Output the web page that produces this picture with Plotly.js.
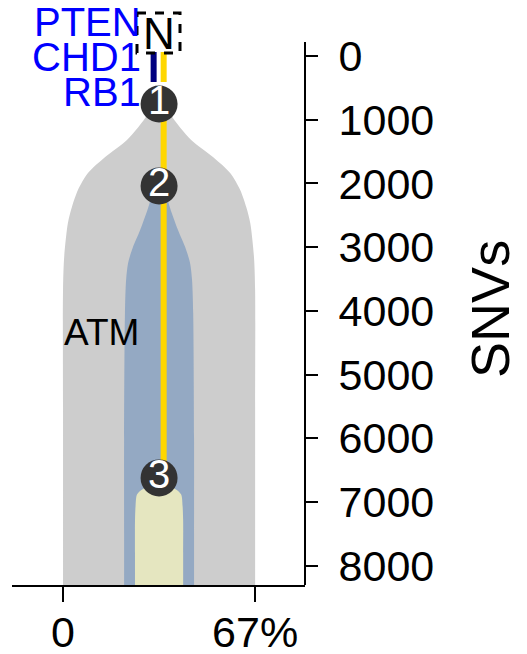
<!DOCTYPE html>
<html>
<head>
<meta charset="utf-8">
<script src="https://cdn.plot.ly/plotly-3.0.1.min.js"></script>
<style>html,body{margin:0;padding:0;background:#fff;}#chart{width:527px;height:654px;}</style>
</head>
<body>
<div id="chart"></div>
<script>
// ---- data ----
const maxCCF = 67;                 // % (right tick)
const cloneCenter = 33.5;          // centre of fish (% units)

// clone outlines: SNV depth vs half-width (%)
const greySNV  = [753, 925, 1318, 1584, 1835, 2102, 2369, 2620, 3153, 3670, 5500, 7500, 8300, 8700];
const greyHalf = [3, 4.2, 11.2, 18.8, 24.8, 28.3, 30.4, 31.8, 33.1, 33.5, 33.5, 33.5, 33.5, 33.5];
const blueSNV  = [2040, 2337, 2729, 2996, 3247, 3514, 4031, 6000, 7500, 8300, 8700];
const blueHalf = [2, 3.5, 6.6, 9.1, 10.8, 11.5, 11.9, 12.2, 12.2, 12.2, 12.2];
const khakiSNV  = [6680, 6800, 6880, 7060, 7300, 7800, 8300, 8700];
const khakiHalf = [0.5, 5.9, 7.7, 8.2, 8.4, 8.4, 8.4, 8.4];

// nodes
const nodeLabels = ['1', '2', '3'];
const nodeSNV = [753, 2040, 6620];

// truncal driver labels
const driverLabels = ['PTEN', 'CHD1', 'RB1'];
const driverSNV = [-533, 16, 565];
const truncStartSNV = -63, truncEndSNV = 408;

const subcloneLabel = 'ATM';
const subcloneLabelPos = [13.3, 4345];

const yTicks = [0, 1000, 2000, 3000, 4000, 5000, 6000, 7000, 8000];
const xTicks = [0, 67];
const xTickText = ['0', '67%'];

// ---- build ----
function outline(snv, half) {
  const xs = [], ys = [];
  for (let i = 0; i < snv.length; i++) { xs.push(cloneCenter - half[i]); ys.push(snv[i]); }
  for (let i = snv.length - 1; i >= 0; i--) { xs.push(cloneCenter + half[i]); ys.push(snv[i]); }
  return {x: xs, y: ys};
}
function fishTrace(o, color) {
  return {x: o.x, y: o.y, type: 'scatter', mode: 'lines', fill: 'toself', fillcolor: color,
    line: {width: 0, shape: 'spline', smoothing: 0.8, color: color}, hoverinfo: 'skip'};
}
const g = outline(greySNV, greyHalf), b = outline(blueSNV, blueHalf), k = outline(khakiSNV, khakiHalf);
const navyX = cloneCenter - 1.9, yellowX = cloneCenter + 1.6;

const traces = [
  fishTrace(g, '#cdcdcd'),
  fishTrace(b, '#94a9c3'),
  fishTrace(k, '#e5e6c0'),
  {x: [navyX, navyX], y: [truncStartSNV, truncEndSNV], type: 'scatter', mode: 'lines',
   line: {color: '#000080', width: 6}, hoverinfo: 'skip'},
  {x: [yellowX, yellowX], y: [truncStartSNV, truncEndSNV], type: 'scatter', mode: 'lines',
   line: {color: '#ffd700', width: 6}, hoverinfo: 'skip'},
  {x: [yellowX, yellowX], y: [nodeSNV[0], nodeSNV[2]], type: 'scatter', mode: 'lines',
   line: {color: '#ffd700', width: 6}, hoverinfo: 'skip'},
  {x: nodeSNV.map(() => cloneCenter), y: nodeSNV, type: 'scatter', mode: 'markers+text',
   text: nodeLabels, textposition: 'middle center', cliponaxis: false,
   marker: {size: 37, color: '#333333', line: {width: 0}},
   textfont: {family: 'Liberation Sans, Arial, sans-serif', size: 40, color: '#ffffff'}, hoverinfo: 'skip'}
];

const annotations = driverLabels.map((t, i) => ({
  x: 27.9, y: driverSNV[i], xref: 'x', yref: 'y', text: t, showarrow: false, xanchor: 'right', yanchor: 'middle',
  font: {family: 'Liberation Sans, Arial, sans-serif', size: 40, color: '#0000ff'}
}));
annotations.push({x: subcloneLabelPos[0], y: subcloneLabelPos[1], xref: 'x', yref: 'y', text: subcloneLabel,
  showarrow: false, xanchor: 'center', yanchor: 'middle',
  font: {family: 'Liberation Sans, Arial, sans-serif', size: 37, color: '#000000'}});
annotations.push({x: cloneCenter, y: -360, xref: 'x', yref: 'y', text: 'N', showarrow: false,
  xanchor: 'center', yanchor: 'middle',
  font: {family: 'Liberation Sans, Arial, sans-serif', size: 44, color: '#000000'}});
// y-axis title (placed as rotated annotation to centre it on the drawn axis line)
annotations.push({x: 1.631, y: 3970, xref: 'paper', yref: 'y', text: 'SNVs', showarrow: false,
  textangle: -90, xanchor: 'center', yanchor: 'middle',
  font: {family: 'Liberation Sans, Arial, sans-serif', size: 54, color: '#000000'}});

const layout = {
  width: 527, height: 654,
  margin: {l: 12, r: 222, t: 5, b: 69},
  paper_bgcolor: '#ffffff', plot_bgcolor: '#ffffff',
  showlegend: false,
  font: {family: 'Liberation Sans, Arial, sans-serif', color: '#000000'},
  xaxis: {range: [-17.8, 84.4], tickvals: xTicks, ticktext: xTickText, ticks: 'outside', ticklen: 15,
    tickwidth: 2, tickcolor: '#000', showline: true, linewidth: 2, linecolor: '#000',
    showgrid: false, zeroline: false, tickfont: {size: 43, color: '#000'}, ticklabelstandoff: -7,
    fixedrange: true},
  yaxis: {range: [8300, -800], side: 'right', tickvals: yTicks, ticks: 'outside', ticklen: 12,
    tickwidth: 2, tickcolor: '#000', showline: false, showgrid: false, zeroline: false,
    tickfont: {size: 43, color: '#000'}, ticklabelstandoff: 12, fixedrange: true},
  shapes: [
    {type: 'line', xref: 'paper', yref: 'y', x0: 1, x1: 1, y0: -220, y1: 8300,
     line: {color: '#000', width: 2}},
    {type: 'rect', xref: 'x', yref: 'y', x0: 25.8, x1: 40.8, y0: -675, y1: -47,
     line: {color: '#000', width: 3, dash: 'dash'}, fillcolor: 'rgba(0,0,0,0)'}
  ],
  annotations: annotations
};

Plotly.newPlot('chart', traces, layout, {displayModeBar: false, staticPlot: true});
</script>
</body>
</html>
